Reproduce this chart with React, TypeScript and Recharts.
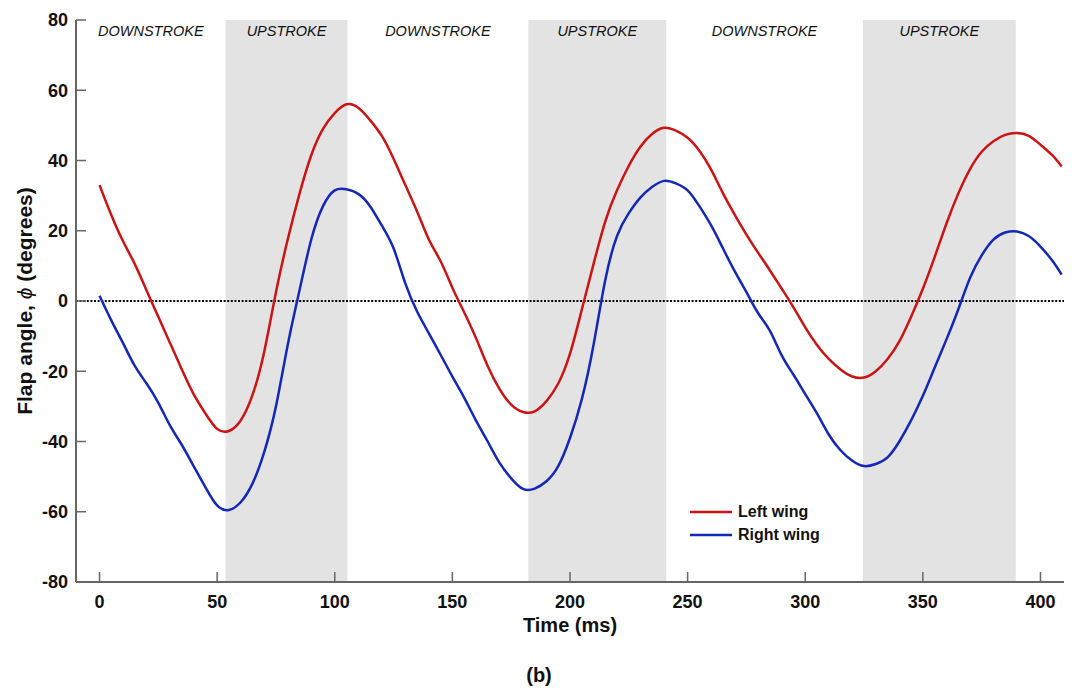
import {
  Label,
  Legend,
  Line,
  LineChart,
  ReferenceArea,
  ReferenceLine,
  XAxis,
  YAxis,
} from "recharts";

const FONT = '"Liberation Sans", Arial, sans-serif';

// time samples (ms)
const TIME = [
  0, 5, 10, 15, 20, 25, 30, 35, 40, 45, 50, 55, 60, 65, 70, 75, 80, 85, 90, 95,
  100, 105, 110, 115, 120, 125, 130, 135, 140, 145, 150, 155, 160, 165, 170,
  175, 180, 185, 190, 195, 200, 205, 210, 215, 220, 225, 230, 235, 240, 245,
  250, 255, 260, 265, 270, 275, 280, 285, 290, 295, 300, 305, 310, 315, 320,
  325, 330, 335, 340, 345, 350, 355, 360, 365, 370, 375, 380, 385, 390, 395,
  400, 405, 409,
];

// flap angle, left wing (deg)
const LEFT_WING = [
  33, 24.5, 17, 10.5, 3, -4.5, -12, -19.5, -26.5, -32, -36.4, -37, -34, -26.8,
  -14.5, 2.5, 17.5, 30.5, 41.5, 49, 53.5, 56, 55, 51.5, 47, 40.5, 33, 25.5,
  17.5, 11.3, 3.8, -3.2, -10.5, -18.5, -25, -29.5, -31.6, -31.4, -28.5, -23.5,
  -15, -2.5, 10.5, 22.7, 31.5, 38.5, 44, 47.6, 49.3, 48.5, 46.5, 42.8, 37.4,
  30.7, 24.6, 18.9, 13.7, 8.7, 3.5, -1.8, -7.5, -12.5, -16.5, -19.5, -21.5,
  -21.8, -20, -16.5, -11.5, -4.5, 3.5, 12.5, 22, 30.5, 37.5, 42.5, 45.5, 47.3,
  47.8, 47, 44.5, 41.5, 38.3,
];

// flap angle, right wing (deg)
const RIGHT_WING = [
  1.5, -5.5, -12, -18.5, -23.5, -29, -35.5, -41, -47, -53, -58.2, -59.5, -57.3,
  -52, -43, -30, -12.5, 3, 17.5, 27, 31.5, 31.8, 30.5, 27, 21.5, 15, 5, -3,
  -9.2, -15.3, -21.5, -27.5, -34, -40, -46, -50.5, -53.5, -53.4, -51.3, -47,
  -39, -28, -12.5, 6, 18.5, 25, 29.5, 32.5, 34.2, 33.5, 31.5, 27, 21.5, 15,
  8.5, 2.5, -3.5, -8.5, -15.5, -21, -26.5, -32, -38, -42.5, -45.5, -47, -46.4,
  -44.5, -40, -34, -27, -19, -11, -2.5, 6.5, 13, 17.5, 19.5, 19.8, 18.5, 15.5,
  11.5, 7.5,
];

// stroke phase boundaries (ms) and names
const PHASE_EDGES = [-10, 53.6, 105.4, 182.3, 240.9, 324.5, 389.5, 410];
const PHASE_NAMES = [
  "DOWNSTROKE",
  "UPSTROKE",
  "DOWNSTROKE",
  "UPSTROKE",
  "DOWNSTROKE",
  "UPSTROKE",
  "",
];

const X_TICKS = [0, 50, 100, 150, 200, 250, 300, 350, 400];
const Y_TICKS = [-80, -60, -40, -20, 0, 20, 40, 60, 80];

const RED = "#cc1414";
const BLUE = "#1428b8";
const AXIS = "#666";

const data = TIME.map((t, i) => ({
  t,
  left: LEFT_WING[i],
  right: RIGHT_WING[i],
}));

const phases = PHASE_NAMES.map((name, i) => ({
  name,
  x1: PHASE_EDGES[i],
  x2: PHASE_EDGES[i + 1],
}));

function YTick({ x, y, payload }: any) {
  return (
    <g>
      <line x1={x} x2={x + 10} y1={y} y2={y} stroke={AXIS} strokeWidth={1.5} />
      <text
        x={x - 8}
        y={y}
        dy="0.35em"
        textAnchor="end"
        fontFamily={FONT}
        fontWeight="bold"
        fontSize={18}
        fill="#111"
      >
        {payload.value}
      </text>
    </g>
  );
}

function XTick({ x, y, payload }: any) {
  return (
    <g>
      <line x1={x} x2={x} y1={y} y2={y - 10} stroke={AXIS} strokeWidth={1.5} />
      <text
        x={x}
        y={y + 26}
        textAnchor="middle"
        fontFamily={FONT}
        fontWeight="bold"
        fontSize={18}
        fill="#111"
      >
        {payload.value}
      </text>
    </g>
  );
}

function XTitle({ viewBox }: any) {
  const cx = viewBox.x + viewBox.width / 2;
  return (
    <g fontFamily={FONT} fontWeight="bold" fontSize={20} fill="#111">
      <text x={cx} y={viewBox.y + 50} textAnchor="middle">
        Time (ms)
      </text>
      <text x={cx - 31} y={viewBox.y + 100} textAnchor="middle">
        (b)
      </text>
    </g>
  );
}

function YTitle({ viewBox }: any) {
  const cx = 25;
  const cy = viewBox.y + viewBox.height / 2;
  return (
    <text
      x={cx}
      y={cy}
      transform={`rotate(-90 ${cx} ${cy})`}
      textAnchor="middle"
      dy="0.35em"
      fontFamily={FONT}
      fontWeight="bold"
      fontSize={21}
      fill="#111"
    >
      Flap angle, <tspan fontStyle="italic" fontWeight="normal">ϕ</tspan> (degrees)
    </text>
  );
}

function WingLegend({ payload }: any) {
  return (
    <div style={{ fontFamily: FONT, fontWeight: "bold", fontSize: 16 }}>
      {payload.map((p: any) => (
        <div
          key={p.value}
          style={{ display: "flex", alignItems: "center", height: 23 }}
        >
          <svg width={44} height={6} style={{ marginRight: 4 }}>
            <line x1={0} x2={42} y1={3} y2={3} stroke={p.color} strokeWidth={2.5} />
          </svg>
          <span style={{ color: "#111" }}>{p.value}</span>
        </div>
      ))}
    </div>
  );
}

export default function App() {
  return (
    <div style={{ position: "absolute", left: 0, top: 0, background: "#fff" }}>
      <LineChart
        width={1076}
        height={692}
        data={data}
        margin={{ top: 20, right: 12, left: 0, bottom: 0 }}
      >
        {phases.map((p, i) => (
          <ReferenceArea
            key={i}
            x1={p.x1}
            x2={p.x2}
            fill={p.name === "UPSTROKE" ? "#e3e3e3" : "none"}
            fillOpacity={1}
            stroke="none"
          >
            <Label
              value={p.name}
              position="insideTop"
              offset={6}
              fontFamily={FONT}
              fontStyle="italic"
              fontSize={14.5}
              fill="#111"
            />
          </ReferenceArea>
        ))}
        <XAxis
          dataKey="t"
          type="number"
          domain={[-10, 410]}
          ticks={X_TICKS}
          allowDataOverflow
          height={110}
          tickSize={0}
          tickMargin={0}
          tickLine={false}
          axisLine={{ stroke: AXIS, strokeWidth: 2 }}
          tick={<XTick />}
        >
          <Label content={<XTitle />} />
        </XAxis>
        <YAxis
          type="number"
          domain={[-80, 80]}
          ticks={Y_TICKS}
          width={76}
          tickSize={0}
          tickMargin={0}
          tickLine={false}
          axisLine={{ stroke: AXIS, strokeWidth: 2 }}
          tick={<YTick />}
        >
          <Label content={<YTitle />} />
        </YAxis>
        <ReferenceLine
          y={0}
          stroke="#000"
          strokeWidth={2}
          strokeDasharray="2 1.6"
        />
        <Legend
          layout="horizontal"
          verticalAlign="middle"
          align="center"
          wrapperStyle={{ position: "absolute", left: 690, top: 500, width: "auto" }}
          content={<WingLegend />}
        />
        <Line
          type="natural"
          dataKey="left"
          name="Left wing"
          stroke={RED}
          strokeWidth={2.5}
          dot={false}
          isAnimationActive={false}
        />
        <Line
          type="natural"
          dataKey="right"
          name="Right wing"
          stroke={BLUE}
          strokeWidth={2.5}
          dot={false}
          isAnimationActive={false}
        />
      </LineChart>
    </div>
  );
}
